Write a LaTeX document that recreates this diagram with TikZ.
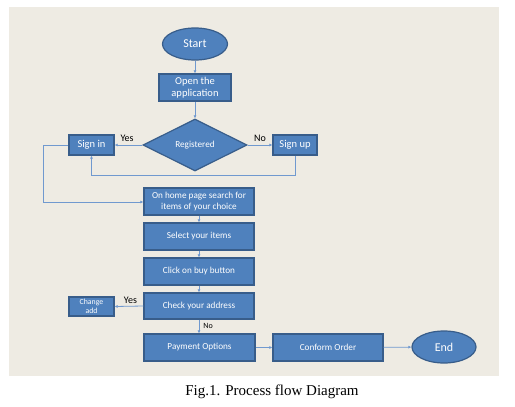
\documentclass[tikz,border=0pt]{standalone}
\usepackage{fontspec}
\setmainfont{Carlito}
\newfontfamily\capfont{Liberation Serif}
\usetikzlibrary{shapes.geometric,arrows.meta}
\definecolor{bgc}{HTML}{EEEBE3}
\definecolor{boxfill}{HTML}{4F81BD}
\definecolor{boxline}{HTML}{385D8A}
\definecolor{conn}{HTML}{7099CF}
\begin{document}
\begin{tikzpicture}[x=1pt,y=-1pt,
  proc/.style={draw=boxline,line width=1.2pt,fill=boxfill,text=white,inner sep=1pt,align=center,font=\fontsize{9.2}{10.5}\selectfont},
  term/.style={ellipse,draw=boxline,line width=1.2pt,fill=boxfill,text=white,inner sep=0pt,font=\fontsize{12}{14}\selectfont},
  dec/.style={diamond,draw=boxline,line width=1.2pt,fill=boxfill,text=white,inner sep=0pt,font=\fontsize{9.2}{10}\selectfont},
  conn/.style={draw=conn,line width=0.8pt,-{Latex[length=3pt,width=3pt]}},
  lab/.style={font=\fontsize{10}{11}\selectfont,text=black,inner sep=0pt}]
\useasboundingbox (0,0) rectangle (515,407);
\fill[bgc] (9,7) rectangle (499,376);
\node[term,minimum width=65,minimum height=32] (start) at (195,44) {Start};
\node[proc,minimum width=72,minimum height=27,font=\fontsize{10.5}{12}\selectfont] (open) at (195,87.5) {Open the\\application};
\node[dec,minimum width=104,minimum height=52] (reg) at (195,145) {Registered};
\node[proc,minimum width=45,minimum height=20,font=\fontsize{10.5}{12}\selectfont] (signin) at (91.5,145) {Sign in};
\node[proc,minimum width=44,minimum height=20,font=\fontsize{10.5}{12}\selectfont] (signup) at (295,145) {Sign up};
\node[proc,minimum width=110,minimum height=27] (home) at (199,201.5) {On home page search for\\items of your choice};
\node[proc,minimum width=110,minimum height=27] (select) at (199,236.5) {Select your items};
\node[proc,minimum width=110,minimum height=27] (click) at (199,271.5) {Click on buy button};
\node[proc,minimum width=110,minimum height=26] (check) at (199,306) {Check your address};
\node[proc,minimum width=45,minimum height=19,font=\fontsize{7.8}{8.5}\selectfont] (change) at (91.5,306.5) {Change\\add};
\node[proc,minimum width=111,minimum height=27] (pay) at (199.5,347.5) {Payment Options};
\node[proc,minimum width=110,minimum height=27] (conf) at (328,347.5) {Conform Order};
\node[term,minimum width=64,minimum height=32] (end) at (444,347) {End};
\coordinate (c1) at (295,175);
\coordinate (c2) at (91.5,175);
\coordinate (c3) at (43,145);
\coordinate (c4) at (43,202);
\draw[conn] (start) -- (open);
\draw[conn] (open) -- (reg);
\draw[conn] (reg.west) -- (signin.east) node[lab,pos=0.55,above=3pt] (yes1) {Yes};
\draw[conn] (reg.east) -- (signup.west) node[lab,pos=0.5,above=3pt] (no1) {No};
\draw[conn] (signup.south) -- (c1) -- (c2) -- (signin.south);
\draw[conn] (signin.west) -- (c3) -- (c4) -- (home.west |- c4);
\draw[conn] (home) -- (select);
\draw[conn] (select) -- (click);
\draw[conn] (click) -- (check);
\draw[conn] (check.west) -- (change.east) node[lab,pos=0.45,above=2pt] (yes2) {Yes};
\draw[conn] (check.south -| 199,0) -- (pay.north -| 199,0) node[lab,pos=0.45,right=4pt,font=\fontsize{8}{9}\selectfont] (no2) {No};
\draw[conn] (pay) -- (conf);
\draw[conn] (conf) -- (end);
\node[inner sep=0pt,font=\capfont\fontsize{15}{17}\selectfont] (cap) at (272,392) {Fig.1. Process flow Diagram};
\end{tikzpicture}
\end{document}
